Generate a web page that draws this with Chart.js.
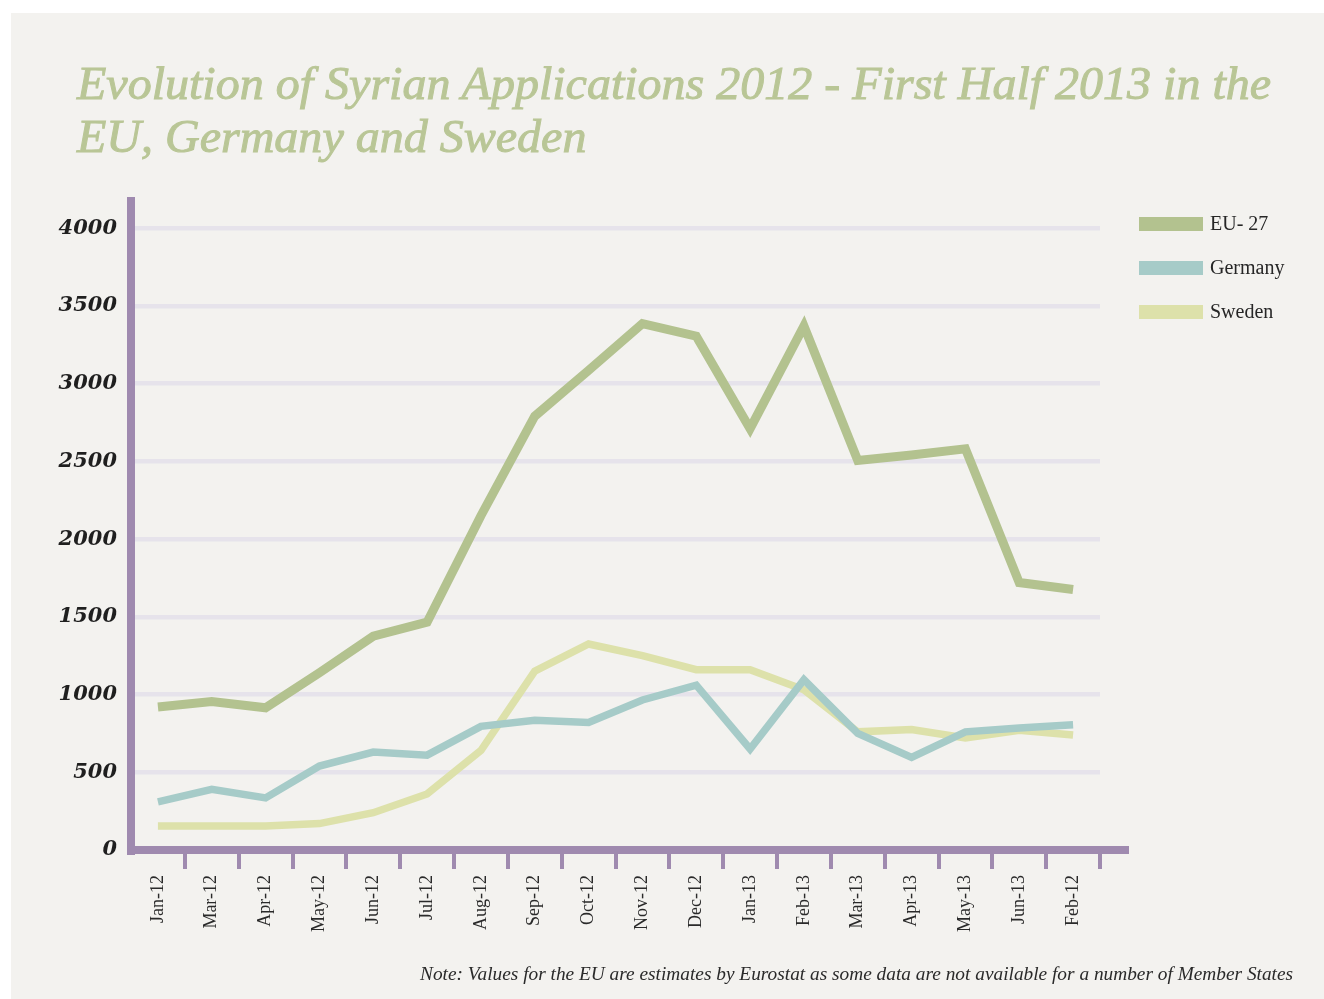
<!DOCTYPE html>
<html>
<head>
<meta charset="utf-8">
<script src="https://cdn.jsdelivr.net/npm/chart.js@4.4.1/dist/chart.umd.min.js"></script>
<style>
  html, body { margin:0; padding:0; background:#ffffff; width:1324px; height:999px; overflow:hidden; }
  #panel { position:absolute; left:11px; top:13px; right:0; bottom:0; background:#f3f2ef; }
  #wrap { position:absolute; left:0; top:0; width:1324px; height:999px; }
  .title { position:absolute; left:77px; white-space:nowrap; font-family:"Liberation Serif", serif; font-style:italic; color:#b9c696; transform-origin:0 0; -webkit-text-stroke:1px #b9c696; }
  #note { position:absolute; white-space:nowrap; font-family:"Liberation Serif", serif; font-style:italic; color:#2a2a2a; transform-origin:100% 0; }
  .leg { position:absolute; left:1139px; height:44px; font-family:"Liberation Serif", serif; font-size:20px; color:#262626; }
  .leg .box { position:absolute; left:0; width:64px; height:14px; }
  .leg .txt { position:absolute; left:71px; white-space:nowrap; line-height:20px; }
</style>
</head>
<body>
<div id="panel"></div>
<div id="wrap"><canvas id="c" width="1324" height="999"></canvas></div>
<div class="title" id="t1">Evolution of Syrian Applications 2012 - First Half 2013 in the</div>
<div class="title" id="t2">EU, Germany and Sweden</div>
<div id="note">Note: Values for the EU are estimates by Eurostat as some data are not available for a number of Member States</div>
<div id="legend"></div>
<script>
// ---- data ----
const categories = ['Jan-12','Mar-12','Apr-12','May-12','Jun-12','Jul-12','Aug-12','Sep-12','Oct-12','Nov-12','Dec-12','Jan-13','Feb-13','Mar-13','Apr-13','May-13','Jun-13','Feb-12'];
const eu27    = [920, 955, 915, 1140, 1375, 1465, 2150, 2790, 3085, 3385, 3305, 2710, 3370, 2505, 2540, 2580, 1720, 1675];
const germany = [310, 390, 335, 540, 630, 610, 795, 835, 820, 965, 1060, 650, 1095, 750, 595, 760, 785, 805];
const sweden  = [155, 155, 155, 170, 240, 360, 640, 1150, 1325, 1250, 1160, 1160, 1030, 760, 775, 720, 770, 740];
const seriesNames = ['EU- 27', 'Germany', 'Sweden'];
const yTickValues = [0, 500, 1000, 1500, 2000, 2500, 3000, 3500, 4000];

// ---- styles ----
const AXIS = '#9f8aaf';
const GRID = '#e6e3eb';
const COLORS = ['#b3c28f', '#a6cbc8', '#dde1aa'];
const WIDTHS = [9, 7.5, 7.5];

// title & note text fitting
function fitText(el, font, targetWidth, baseline, anchorRight) {
  const m = document.createElement('canvas').getContext('2d');
  m.font = font;
  const w = m.measureText(el.textContent).width;
  const size = parseFloat(font.match(/(\d+(\.\d+)?)px/)[1]);
  el.style.font = font;
  el.style.lineHeight = size + 'px';
  el.style.top = (baseline - 0.8375 * size) + 'px';
  const sx = targetWidth / w;
  el.style.transform = 'scaleX(' + sx + ')';
  if (anchorRight !== undefined) {
    el.style.left = (anchorRight - w) + 'px';
  }
}
const TFONT = 'italic 47px "Liberation Serif"';
const m2 = document.createElement('canvas').getContext('2d');
m2.font = TFONT;
const tScale = 1195 / m2.measureText(document.getElementById('t1').textContent).width;
fitText(document.getElementById('t1'), TFONT, 1195, 99);
fitText(document.getElementById('t2'), TFONT, m2.measureText('EU, Germany and Sweden').width * tScale, 152);
fitText(document.getElementById('note'), 'italic 19px "Liberation Serif"', 873, 980, 1293);

const axisLines = {
  id: 'axisLines',
  afterDraw(chart) {
    const { ctx, chartArea: a } = chart;
    ctx.save();
    ctx.fillStyle = AXIS;
    ctx.fillRect(a.left - 4, a.top, 8, a.bottom - a.top + 5);
    ctx.fillRect(a.left - 4, a.bottom - 4, a.right - a.left + 33, 8);
    ctx.restore();
  }
};

const datasets = [eu27, germany, sweden].map((d, i) => ({
  label: seriesNames[i],
  data: d,
  borderColor: COLORS[i],
  backgroundColor: COLORS[i],
  borderWidth: WIDTHS[i],
  pointRadius: 0,
  pointHoverRadius: 0,
  tension: 0,
  fill: false,
  borderJoinStyle: 'miter',
  borderCapStyle: 'butt'
}));

const chart = new Chart(document.getElementById('c'), {
  type: 'line',
  data: { labels: categories, datasets },
  options: {
    responsive: false,
    animation: false,
    layout: { padding: { left: 0, top: 197, right: 224, bottom: 0 } },
    plugins: { legend: { display: false }, tooltip: { enabled: false }, title: { display: false } },
    scales: {
      x: {
        type: 'category',
        offset: true,
        border: { display: false },
        grid: {
          offset: true,
          drawOnChartArea: false,
          drawTicks: true,
          tickLength: 19,
          lineWidth: 4,
          color: (ctx) => ctx.index === 0 ? 'rgba(0,0,0,0)' : AXIS
        },
        ticks: {
          autoSkip: false,
          minRotation: 90,
          maxRotation: 90,
          padding: 6,
          color: '#2a2a2a',
          font: { family: '"Liberation Serif", serif', size: 18 }
        },
        afterFit(scale) { scale.height = 149; }
      },
      y: {
        type: 'linear',
        min: 0,
        max: 4200,
        border: { display: false },
        grid: { color: GRID, lineWidth: 4.5, drawTicks: false },
        afterBuildTicks(scale) { scale.ticks = yTickValues.map(v => ({ value: v })); },
        ticks: {
          padding: 14,
          color: '#1f1f1f',
          font: { family: '"DejaVu Serif", serif', size: 21, style: 'italic', weight: 'bold' },
          callback: (v) => String(v)
        },
        afterFit(scale) { scale.width = 131; }
      }
    }
  },
  plugins: [axisLines]
});

// legend from datasets
const legend = document.getElementById('legend');
chart.data.datasets.forEach((ds, i) => {
  const item = document.createElement('div');
  item.className = 'leg';
  item.style.top = (202 + i * 44) + 'px';
  const box = document.createElement('div');
  box.className = 'box';
  box.style.top = '15px';
  box.style.background = ds.borderColor;
  const txt = document.createElement('div');
  txt.className = 'txt';
  txt.style.top = '11px';
  txt.textContent = ds.label;
  item.appendChild(box); item.appendChild(txt);
  legend.appendChild(item);
});
</script>
</body>
</html>
